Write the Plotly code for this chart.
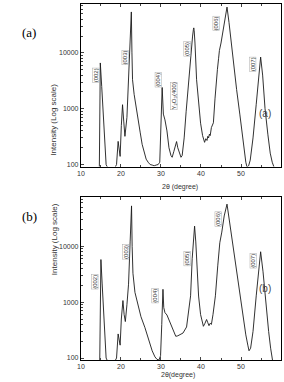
import math
import plotly.graph_objects as go

# ---- data (2theta in degrees, intensity in counts) ----
theta_a = [14.6, 14.85, 15.2, 15.6, 16.0, 16.3, 16.6, 17.5, 18.5, 18.9, 19.3, 19.6, 19.8,
           20.1, 20.4, 20.7, 21.0, 21.5, 22.0, 22.4, 22.6, 22.75, 22.9, 23.3, 23.8, 24.3,
           24.8, 25.3, 25.8, 26.3, 26.8, 27.3, 27.8, 28.3, 28.8, 29.3, 29.7, 30.0, 30.3,
           30.6, 31.0, 31.5, 32.0, 32.5, 32.8, 33.2, 33.6, 33.9, 34.2, 34.6, 35.0, 35.3,
           35.8, 36.3, 36.9, 37.4, 37.9, 38.1, 38.2, 38.3, 38.5, 38.9, 39.4, 39.9, 40.4,
           40.9, 41.2, 41.5, 41.7, 41.9, 42.1, 42.3, 42.6, 43.1, 43.5, 43.8, 44.1, 44.4,
           44.6, 45.0, 45.5, 46.0, 46.5, 47.0, 47.5, 48.3, 48.9, 49.7, 50.3, 50.8, 51.2,
           51.5, 51.9, 52.3, 53.0, 53.8, 54.5, 54.9, 55.4, 56.0, 56.7, 57.3, 57.8, 58.1, 58.5]
inten_a = [80, 6600, 2500, 700, 200, 100, 90, 85, 88, 100, 260, 150, 140,
           500, 1180, 600, 320, 700, 5000, 25000, 54000, 10000, 3300, 1800, 1000, 600,
           380, 230, 160, 125, 110, 100, 98, 95, 98, 100, 110, 400, 2400,
           800, 630, 400, 200, 145, 135, 170, 230, 258, 200, 160, 135, 145,
           300, 900, 3300, 9000, 20000, 26000, 28000, 25000, 15000, 3300, 1200, 550, 330,
           250, 290, 270, 320, 300, 350, 330, 460, 560, 1500, 3300, 5000, 8000,
           11000, 15000, 26000, 42000, 66000, 35000, 16000, 5900, 2200, 800, 330, 170, 110,
           90, 95, 120, 300, 1200, 4000, 8400, 4000, 1000, 350, 160, 110, 90, 80]

theta_b = [14.7, 15.0, 15.3, 15.7, 16.0, 16.3, 16.6, 17.5, 18.5, 18.9, 19.3, 19.6, 19.8,
           20.1, 20.5, 20.8, 21.1, 21.5, 21.9, 22.3, 22.65, 22.8, 23.0, 23.5, 24.2, 25.0,
           26.0, 26.8, 27.8, 28.5, 29.0, 29.5, 29.9, 30.2, 30.5, 30.7, 31.0, 31.5, 32.5,
           33.2, 33.7, 34.2, 35.0, 35.5, 36.4, 36.9, 37.4, 37.8, 38.1, 38.4, 38.7, 38.8,
           39.4, 39.9, 40.6, 41.0, 41.4, 41.7, 42.0, 42.3, 42.6, 43.0, 43.6, 44.2, 44.5,
           44.7, 45.2, 45.8, 46.5, 47.2, 48.0, 48.8, 49.8, 50.6, 51.2, 51.7, 52.0, 52.4,
           53.0, 53.8, 54.5, 54.9, 55.5, 56.2, 56.9, 57.4, 57.7, 58.0]
inten_b = [80, 5800, 2200, 600, 200, 100, 90, 85, 88, 100, 270, 180, 170,
           500, 1070, 600, 450, 900, 2100, 12000, 53000, 10000, 3300, 1500, 900, 550,
           350, 220, 135, 105, 95, 92, 110, 400, 1700, 800, 650, 590, 400,
           300, 245, 250, 270, 280, 360, 700, 1300, 6000, 15000, 23000, 12000, 8000,
           1290, 600, 370, 420, 490, 430, 380, 420, 400, 600, 1300, 4600, 8000,
           11600, 18000, 35000, 57000, 25000, 10000, 3600, 1290, 500, 260, 170, 135, 150,
           300, 1300, 4500, 8000, 3500, 900, 300, 150, 100, 80]

# peak labels: (text, 2theta, intensity)
labels_a = [("(002)", 13.8, 3900), ("(003)", 21.1, 8200), ("(004)", 29.4, 3300),
            ("Y\u2082O\u2083(400)", 33.3, 1700), ("(005)", 36.5, 12000),
            ("(006)", 43.7, 34000), ("(007)", 53.0, 6100)]
labels_b = [("(002)", 13.6, 2300), ("(003)", 21.1, 7900), ("(004)", 28.6, 1300),
            ("(005)", 36.6, 6000), ("(006)", 44.4, 31000), ("(007)", 53.0, 5400)]

xticks = [10, 20, 30, 40, 50, 60]
yticks = [100, 1000, 10000]
yminor = [m * d for d in (10, 100, 1000, 10000) for m in range(2, 10)]

W, H = 284, 382
def px(x): return x / W
def py(y): return 1 - y / H

fig = go.Figure()
fig.add_trace(go.Scatter(x=theta_a, y=inten_a, mode="lines",
                         line=dict(color="#1a1a1a", width=0.9),
                         xaxis="x", yaxis="y", showlegend=False))
fig.add_trace(go.Scatter(x=theta_b, y=inten_b, mode="lines",
                         line=dict(color="#1a1a1a", width=0.9),
                         xaxis="x2", yaxis="y2", showlegend=False))

tickfont = dict(family="Liberation Sans", size=7, color="#333")
xcommon = dict(range=[10, 60], domain=[px(78), px(281)], tickvals=xticks,
               ticks="inside", ticklen=3, showline=True, linecolor="black",
               linewidth=1, mirror="ticks", showgrid=False, zeroline=False,
               tickfont=tickfont,
               minor=dict(dtick=5, tick0=0, ticks="inside", ticklen=2, showgrid=False))
ycommon = dict(type="log", tickvals=yticks, ticktext=["100", "1000", "10000"],
               ticks="inside", ticklen=3, showline=True, linecolor="black",
               linewidth=1, mirror=True, showgrid=False, zeroline=False,
               tickfont=tickfont,
               minor=dict(tickvals=yminor, ticks="inside", ticklen=2, showgrid=False))

fig.update_layout(
    width=W, height=H, margin=dict(l=0, r=0, t=0, b=0),
    paper_bgcolor="white", plot_bgcolor="white",
    xaxis=dict(anchor="y", **xcommon),
    yaxis=dict(anchor="x", domain=[py(167), py(4)], range=[1.964, 4.875], **ycommon),
    xaxis2=dict(anchor="y2", **xcommon),
    yaxis2=dict(anchor="x2", domain=[py(361), py(198)], range=[1.964, 4.875], **ycommon),
)

lfont = dict(family="Liberation Sans", size=6, color="#333")
ann = []
for (t, x, y) in labels_a:
    ann.append(dict(x=x, y=math.log10(y), xref="x", yref="y", text=t,
                    showarrow=False, textangle=-90, font=lfont,
                    bordercolor="#aaa", borderwidth=0.5, borderpad=0))
for (t, x, y) in labels_b:
    ann.append(dict(x=x, y=math.log10(y), xref="x2", yref="y2", text=t,
                    showarrow=False, textangle=-90, font=lfont,
                    bordercolor="#aaa", borderwidth=0.5, borderpad=0))

# inner panel tags
ann.append(dict(x=px(273), y=py(106), xref="paper", yref="paper", text="(a)",
                showarrow=False, font=dict(family="Liberation Sans", size=10, color="#444")))
ann.append(dict(x=px(273), y=py(297), xref="paper", yref="paper", text="(b)",
                showarrow=False, font=dict(family="Liberation Sans", size=10, color="#444")))
# outer panel tags
ann.append(dict(x=px(16), y=py(23), xref="paper", yref="paper", text="(a)",
                showarrow=False, font=dict(family="Liberation Serif", size=13, color="black")))
ann.append(dict(x=px(16), y=py(217), xref="paper", yref="paper", text="(b)",
                showarrow=False, font=dict(family="Liberation Serif", size=13, color="black")))
# axis titles
afont = dict(family="Liberation Sans", size=8, color="#333")
ann.append(dict(x=px(44), y=py(82), xref="paper", yref="paper", text="Intensity (Log scale)",
                showarrow=False, textangle=-90, font=afont))
ann.append(dict(x=px(44), y=py(278), xref="paper", yref="paper", text="Intensity (Log scale)",
                showarrow=False, textangle=-90, font=afont))
ann.append(dict(x=px(179), y=py(187), xref="paper", yref="paper", text="2\u03b8 (degree)",
                showarrow=False, font=dict(family="Liberation Sans", size=7, color="#333")))
ann.append(dict(x=px(176), y=py(382), xref="paper", yref="paper", text="2\u03b8(degree)",
                yanchor="bottom", showarrow=False,
                font=dict(family="Liberation Sans", size=7, color="#333")))
fig.update_layout(annotations=ann)

fig.write_html("out.html")
